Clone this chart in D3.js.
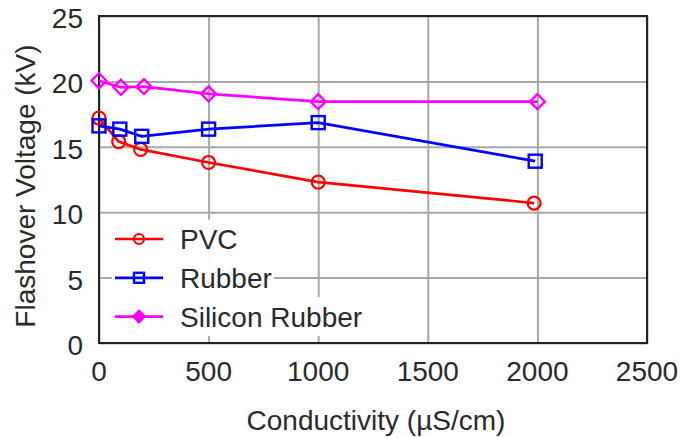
<!DOCTYPE html>
<html>
<head>
<meta charset="utf-8">
<script src="https://cdn.jsdelivr.net/npm/d3@7"></script>
<style>
  body { margin: 0; background: #fff; }
  text { font-family: "Liberation Sans", Arial, sans-serif; fill: #2a2a2a; }
</style>
</head>
<body>
<svg id="chart" width="681" height="437"></svg>
<script>
// values
const seriesNames = ["PVC", "Rubber", "Silicon Rubber"]
const pvcX = [0, 90, 190, 500, 1000, 1985]
const pvcY = [17.2, 15.4, 14.8, 13.8, 12.3, 10.7]
const rubberX = [0, 95, 195, 500, 1000, 1990]
const rubberY = [16.6, 16.35, 15.8, 16.35, 16.85, 13.9]
const siliconX = [0, 100, 205, 500, 1000, 2000]
const siliconY = [20.05, 19.55, 19.6, 19.05, 18.45, 18.45]
const xTicks = [0, 500, 1000, 1500, 2000, 2500]
const yTicks = [0, 5, 10, 15, 20, 25]

const colors = ["#ff0000", "#0000ff", "#ff00ff"]
const shapes = ["circle", "square", "diamond"]
const series = [
    {name: seriesNames[0], xs: pvcX, ys: pvcY},
    {name: seriesNames[1], xs: rubberX, ys: rubberY},
    {name: seriesNames[2], xs: siliconX, ys: siliconY}
]

var svg = d3.select("#chart"),
    margin = {left: 99, top: 16, right: 34, bottom: 94},
    width = svg.attr("width") - margin.left - margin.right,
    height = svg.attr("height") - margin.top - margin.bottom

var x = d3.scaleLinear().domain([0, 2500]).range([0, width])
var y = d3.scaleLinear().domain([0, 25]).range([height, 0])

var g = svg.append("g")
    .attr("transform", "translate(" + margin.left + "," + margin.top + ")")

// grid
g.append("g")
    .attr("transform", "translate(0," + height + ")")
    .call(d3.axisBottom(x).tickValues(xTicks).tickSize(-height).tickFormat(""))
    .call(a => a.select(".domain").remove())
    .selectAll("line").attr("stroke", "#a8a8a8").attr("stroke-width", 2)

g.append("g")
    .call(d3.axisLeft(y).tickValues(yTicks).tickSize(-width).tickFormat(""))
    .call(a => a.select(".domain").remove())
    .selectAll("line").attr("stroke", "#a8a8a8").attr("stroke-width", 2)

// tick labels
g.append("g").selectAll("text")
    .data(xTicks).enter().append("text")
    .attr("x", d => x(d))
    .attr("y", height + 38)
    .attr("text-anchor", "middle")
    .attr("font-size", "28px")
    .text(d => d)

g.append("g").selectAll("text")
    .data(yTicks).enter().append("text")
    .attr("x", -16)
    .attr("y", d => y(d) + 12)
    .attr("text-anchor", "end")
    .attr("font-size", "28px")
    .text(d => d)

// frame
g.append("rect")
    .attr("width", width).attr("height", height)
    .attr("fill", "none").attr("stroke", "#222").attr("stroke-width", 2)

// axis titles
svg.append("text")
    .attr("x", 376).attr("y", 430)
    .attr("text-anchor", "middle")
    .attr("font-size", "28px")
    .text("Conductivity (µS/cm)")

svg.append("text")
    .attr("transform", "translate(35,186) rotate(-90)")
    .attr("text-anchor", "middle")
    .attr("font-size", "28px")
    .text("Flashover Voltage (kV)")

function marker(sel, shape, color, s) {
    if (shape === "circle") {
        sel.append("circle").attr("r", s).attr("fill", "none")
            .attr("stroke", color).attr("stroke-width", 2.2)
    } else if (shape === "square") {
        sel.append("rect").attr("x", -s).attr("y", -s).attr("width", 2 * s).attr("height", 2 * s)
            .attr("fill", "none").attr("stroke", color).attr("stroke-width", 2.4)
    } else {
        var d = s * 1.15
        sel.append("path").attr("d", `M0,${-d}L${d},0L0,${d}L${-d},0Z`)
            .attr("fill", "none").attr("stroke", color).attr("stroke-width", 2.4)
    }
}

var line = d3.line().x(d => x(d[0])).y(d => y(d[1]))

series.forEach((s, i) => {
    var pts = s.xs.map((v, j) => [v, s.ys[j]])
    g.append("path")
        .datum(pts)
        .attr("d", line)
        .attr("fill", "none")
        .attr("stroke", colors[i])
        .attr("stroke-width", 2.7)

    pts.forEach(p => {
        var m = g.append("g").attr("transform", "translate(" + x(p[0]) + "," + y(p[1]) + ")")
        marker(m, shapes[i], colors[i], 6.5)
    })
})

// legend
var legend = svg.append("g")
series.forEach((s, i) => {
    var cy = 239 + i * 38.8
    var item = legend.append("g").attr("transform", "translate(0," + cy + ")")
    var bg = item.append("rect").attr("fill", "#fff")
    item.append("line")
        .attr("x1", 115).attr("x2", 163)
        .attr("stroke", colors[i]).attr("stroke-width", 2.7)
    var m = item.append("g").attr("transform", "translate(139,0)")
    marker(m, shapes[i], colors[i], 5)
    if (shapes[i] === "diamond") m.select("path").attr("fill", colors[i])
    var t = item.append("text")
        .attr("x", 180).attr("y", 10)
        .attr("font-size", "28px")
        .text(s.name)
    var w = t.node().getComputedTextLength()
    bg.attr("x", 112).attr("y", -19.4).attr("width", 180 + w + 2 - 112).attr("height", 38.8)
})
</script>
</body>
</html>
